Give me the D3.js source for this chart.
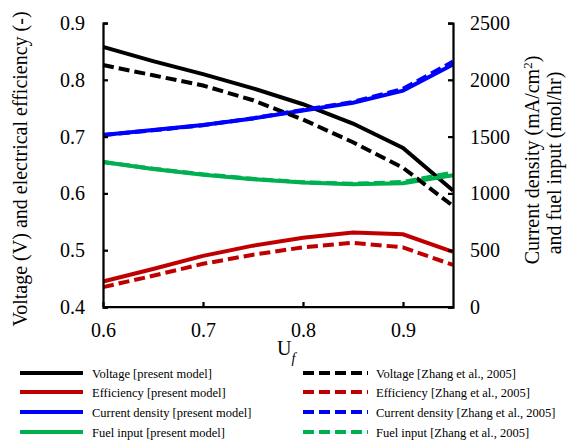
<!DOCTYPE html>
<html>
<head>
<meta charset="utf-8">
<script src="https://cdn.jsdelivr.net/npm/d3@7"></script>
<style>
  body { margin: 0; background: #fff; }
</style>
</head>
<body>
<div id="chart"></div>
<script>
// fuel utilisation (x)
const uf = [0.6, 0.65, 0.7, 0.75, 0.8, 0.85, 0.9, 0.95];

// left axis: voltage (V), efficiency (-)
const voltagePresent = [0.858, 0.833, 0.810, 0.785, 0.757, 0.723, 0.680, 0.605];
const voltageZhang = [0.826, 0.808, 0.790, 0.764, 0.730, 0.690, 0.645, 0.578];
const effPresent = [0.445, 0.467, 0.490, 0.508, 0.522, 0.531, 0.528, 0.497];
const effZhang = [0.435, 0.455, 0.476, 0.492, 0.505, 0.513, 0.505, 0.474];

// right axis: current density (mA/cm2), fuel input (mol/hr)
const currentPresent = [1514, 1558, 1602, 1660, 1730, 1798, 1905, 2135];
const currentZhang = [1514, 1555, 1600, 1662, 1735, 1805, 1920, 2160];
const fuelPresent = [1276, 1215, 1165, 1125, 1095, 1080, 1090, 1160];
const fuelZhang = [1276, 1218, 1168, 1128, 1098, 1085, 1100, 1185];

const xTicks = [0.6, 0.7, 0.8, 0.9];
const leftTicks = [0.4, 0.5, 0.6, 0.7, 0.8, 0.9];
const rightTicks = [0, 500, 1000, 1500, 2000, 2500];

const series = [
  { name: 'Voltage [present model]', values: voltagePresent, axis: 'left', color: '#000000', dashed: false },
  { name: 'Efficiency [present model]', values: effPresent, axis: 'left', color: '#c00000', dashed: false },
  { name: 'Current density [present model]', values: currentPresent, axis: 'right', color: '#0000ff', dashed: false },
  { name: 'Fuel input [present model]', values: fuelPresent, axis: 'right', color: '#00b050', dashed: false },
  { name: 'Voltage [Zhang et al., 2005]', values: voltageZhang, axis: 'left', color: '#000000', dashed: true },
  { name: 'Efficiency [Zhang et al., 2005]', values: effZhang, axis: 'left', color: '#c00000', dashed: true },
  { name: 'Current density [Zhang et al., 2005]', values: currentZhang, axis: 'right', color: '#0000ff', dashed: true },
  { name: 'Fuel input [Zhang et al., 2005]', values: fuelZhang, axis: 'right', color: '#00b050', dashed: true }
];

const width = 568, height = 440;
const margin = { left: 103, right: 115, top: 23, bottom: 133 };
const font = 'Liberation Serif';

const svg = d3.select('#chart').append('svg')
  .attr('width', width)
  .attr('height', height);

const x = d3.scaleLinear().domain([0.6, 0.95]).range([margin.left, width - margin.right]);
const yL = d3.scaleLinear().domain([0.4, 0.9]).range([height - margin.bottom, margin.top]);
const yR = d3.scaleLinear().domain([0, 2500]).range([height - margin.bottom, margin.top]);

// lines
const plot = svg.append('g').attr('class', 'lines');
series.forEach(s => {
  const y = s.axis === 'left' ? yL : yR;
  const line = d3.line()
    .x((d, i) => x(uf[i]))
    .y(d => y(d));
  plot.append('path')
    .datum(s.values)
    .attr('d', line)
    .attr('fill', 'none')
    .attr('stroke', s.color)
    .attr('stroke-width', 4)
    .attr('stroke-dasharray', s.dashed ? '11,5' : null);
});

// axes
const xAxis = svg.append('g')
  .attr('transform', 'translate(0,' + (height - margin.bottom) + ')')
  .call(d3.axisBottom(x).tickValues(xTicks).tickSize(-5).tickPadding(16).tickFormat(d3.format('.1f')));
xAxis.select('.domain').attr('d', 'M' + x(0.6) + ',0H' + x(0.95));

const leftAxis = svg.append('g')
  .attr('transform', 'translate(' + margin.left + ',0)')
  .call(d3.axisLeft(yL).tickValues(leftTicks).tickSize(-5).tickPadding(18).tickFormat(d3.format('.1f')));

const rightAxis = svg.append('g')
  .attr('transform', 'translate(' + (width - margin.right) + ',0)')
  .call(d3.axisRight(yR).tickValues(rightTicks).tickSize(-5).tickPadding(17).tickFormat(d3.format('d')));

[xAxis, leftAxis, rightAxis].forEach(a => {
  a.attr('font-family', null).attr('font-size', null);
  a.selectAll('.domain').attr('stroke', '#000').attr('stroke-width', 2.25);
  a.selectAll('.tick line').attr('stroke', '#000').attr('stroke-width', 2.25);
  a.selectAll('text').attr('fill', '#000').attr('font-family', font).attr('font-size', 20);
});

// axis titles
svg.append('text')
  .attr('transform', 'translate(27,169) rotate(-90)')
  .attr('text-anchor', 'middle')
  .attr('font-family', font)
  .attr('font-size', 20)
  .text('Voltage (V) and electrical efficiency (-)');

const rt1 = svg.append('text')
  .attr('transform', 'translate(539,160) rotate(-90)')
  .attr('text-anchor', 'middle')
  .attr('font-family', font)
  .attr('font-size', 20);
rt1.append('tspan').text('Current density (mA/cm');
rt1.append('tspan').attr('baseline-shift', 'super').attr('font-size', 13).text('2');
rt1.append('tspan').text(')');

svg.append('text')
  .attr('transform', 'translate(561,163) rotate(-90)')
  .attr('text-anchor', 'middle')
  .attr('font-family', font)
  .attr('font-size', 20)
  .text('and fuel input (mol/hr)');

const xl = svg.append('text')
  .attr('x', 277)
  .attr('y', 355)
  .attr('font-family', font)
  .attr('font-size', 20);
xl.append('tspan').text('U');
xl.append('tspan').attr('baseline-shift', 'sub').attr('font-size', 14).attr('font-style', 'italic').text('f');

// legend
const legend = svg.append('g').attr('class', 'legend');
const rowY = [373, 392, 412, 432];
series.forEach((s, i) => {
  const col = s.dashed ? 1 : 0;
  const row = i % 4;
  const x0 = col ? 303 : 20;
  const g = legend.append('g').attr('transform', 'translate(' + x0 + ',' + rowY[row] + ')');
  g.append('line')
    .attr('x1', 0).attr('x2', s.dashed ? 65 : 63)
    .attr('y1', 0).attr('y2', 0)
    .attr('stroke', s.color)
    .attr('stroke-width', 4)
    .attr('stroke-dasharray', s.dashed ? '11,5' : null);
  g.append('text')
    .attr('x', s.dashed ? 73 : 72)
    .attr('y', 4.5)
    .attr('font-family', font)
    .attr('font-size', 12.5)
    .text(s.name);
});
</script>
</body>
</html>
